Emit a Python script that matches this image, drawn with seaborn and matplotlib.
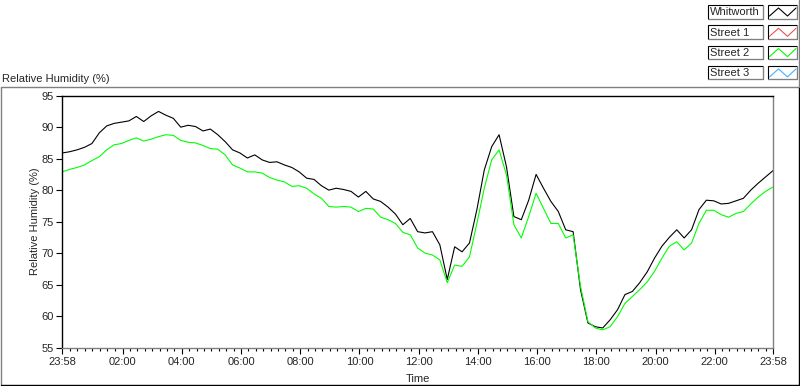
import numpy as np
import pandas as pd
import matplotlib
matplotlib.use("Agg")
import matplotlib.pyplot as plt
from matplotlib.lines import Line2D
from matplotlib.patches import Rectangle
import seaborn as sns

# readings every 15 minutes, counted from 23:58 of the previous day
minutes = np.arange(0, 1441, 15)

whitworth = [
    85.9, 86.1, 86.4, 86.8, 87.4, 89.1, 90.2, 90.6, 90.8, 91.0,
    91.7, 90.9, 91.8, 92.5, 91.9, 91.4, 90.0, 90.3, 90.1, 89.4,
    89.7, 88.8, 87.7, 86.4, 85.9, 85.1, 85.6, 84.8, 84.4, 84.5,
    84.0, 83.6, 82.9, 81.9, 81.7, 80.7, 80.0, 80.3, 80.1, 79.8,
    78.9, 79.8, 78.6, 78.2, 77.3, 76.2, 74.5, 75.5, 73.4, 73.2,
    73.4, 71.3, 65.8, 71.0, 70.2, 71.6, 76.9, 83.2, 86.9, 88.8,
    83.7, 75.8, 75.3, 78.4, 82.5, 80.3, 78.2, 76.6, 73.7, 73.4,
    64.2, 58.9, 58.3, 58.1, 59.4, 61.0, 63.4, 63.9, 65.3, 67.0,
    69.2, 71.1, 72.5, 73.7, 72.4, 73.7, 76.9, 78.4, 78.3, 77.8,
    77.9, 78.3, 78.7, 80.0, 81.1, 82.1, 83.1,
]

street2 = [
    82.9, 83.3, 83.6, 84.0, 84.7, 85.3, 86.4, 87.2, 87.4, 87.9,
    88.3, 87.8, 88.1, 88.5, 88.8, 88.7, 87.9, 87.6, 87.5, 87.1,
    86.6, 86.5, 85.6, 84.0, 83.5, 82.9, 82.9, 82.7, 82.0, 81.6,
    81.3, 80.6, 80.7, 80.3, 79.4, 78.7, 77.4, 77.3, 77.4, 77.3,
    76.6, 77.1, 77.0, 75.7, 75.3, 74.7, 73.3, 72.9, 70.8, 70.0,
    69.7, 68.9, 65.3, 68.1, 67.9, 69.4, 74.7, 80.3, 84.8, 86.4,
    82.4, 74.5, 72.4, 75.8, 79.5, 77.1, 74.7, 74.7, 72.4, 72.9,
    64.7, 59.1, 58.1, 57.8, 58.3, 59.9, 62.0, 63.1, 64.2, 65.4,
    67.1, 69.2, 71.1, 71.8, 70.5, 71.6, 74.7, 76.8, 76.8, 76.1,
    75.7, 76.3, 76.6, 77.8, 78.9, 79.8, 80.5,
]

tick_minutes = [0, 122, 242, 362, 482, 602, 722, 842, 962, 1082, 1202, 1322, 1440]
tick_labels = ["23:58", "02:00", "04:00", "06:00", "08:00", "10:00", "12:00",
               "14:00", "16:00", "18:00", "20:00", "22:00", "23:58"]

legend_names = ["Whitworth", "Street 1", "Street 2", "Street 3"]
legend_colors = ["#000000", "#f05050", "#00ff00", "#40b0ff"]

df = pd.concat([
    pd.DataFrame({"minute": minutes, "rh": whitworth, "station": "Whitworth"}),
    pd.DataFrame({"minute": minutes, "rh": street2, "station": "Street 2"}),
])

sns.set_style("white")
plt.rcParams["font.family"] = ["Liberation Sans", "DejaVu Sans"]
plt.rcParams["font.size"] = 8

W, H = 800, 386
fig = plt.figure(figsize=(W / 100, H / 100), dpi=100)
fig.patch.set_facecolor("white")


def fx(px):
    return px / W


def fy(py):
    return 1 - py / H


ax = fig.add_axes([fx(62.3), fy(347.5), fx(773) - fx(62.3), fy(95.7) - fy(347.5)])
sns.lineplot(data=df, x="minute", y="rh", hue="station",
             hue_order=["Whitworth", "Street 2"],
             palette={"Whitworth": "#000000", "Street 2": "#00ff00"},
             linewidth=0.8, legend=False, ax=ax)

ax.set_xlim(0, 1440)
ax.set_ylim(55, 95)
ax.set_xticks(tick_minutes)
ax.set_xticklabels(tick_labels)
minor = []
for a, b in zip(tick_minutes[:-1], tick_minutes[1:]):
    minor += list(np.linspace(a, b, 9)[1:-1])
ax.set_xticks(minor, minor=True)
ax.set_yticks(np.arange(55, 96, 5))
ax.tick_params(axis="both", which="major", direction="out", length=4, width=0.8,
               color="black", labelsize=8, bottom=True, left=True)
ax.tick_params(axis="x", which="major", pad=3)
ax.tick_params(axis="y", which="major", pad=2)
ax.tick_params(axis="x", which="minor", direction="out", length=2, width=0.8,
               color="black", bottom=True)
ax.set_xlabel("Time", fontsize=8, labelpad=5)
ax.set_ylabel("Relative Humidity (%)", fontsize=8, labelpad=1)
for side in ["top", "left"]:
    ax.spines[side].set_color("black")
    ax.spines[side].set_linewidth(1)
for side in ["bottom", "right"]:
    ax.spines[side].set_color("#808080")
    ax.spines[side].set_linewidth(1)
for side in ax.spines:
    ax.spines[side].set_visible(True)

# chart title above the frame
fig.text(fx(2), fy(82), "Relative Humidity (%)", fontsize=8, ha="left", va="baseline")

# outer frame
fig.add_artist(Line2D([fx(0.5), fx(799)], [fy(86.5), fy(86.5)], color="#808080", lw=1))
fig.add_artist(Line2D([fx(0.5), fx(0.5)], [fy(86.5), fy(384.5)], color="#808080", lw=1))
fig.add_artist(Line2D([fx(0.5), fx(798.5)], [fy(384.5), fy(384.5)], color="black", lw=1))
fig.add_artist(Line2D([fx(798.5), fx(798.5)], [fy(86.5), fy(384.5)], color="black", lw=1))
fig.add_artist(Line2D([fx(798.5), fx(798.5)], [fy(0), fy(86.5)], color="#808080", lw=1))

# legend panel
for i, (name, col) in enumerate(zip(legend_names, legend_colors)):
    top = 5 + i * 20.3
    bot = top + 13.5
    fig.add_artist(Rectangle((fx(708), fy(bot)), fx(763) - fx(708), fy(top) - fy(bot),
                             facecolor="white", edgecolor="black", lw=0.8))
    fig.add_artist(Line2D([fx(708), fx(763), fx(763)], [fy(bot), fy(bot), fy(top)],
                          color="#808080", lw=0.8))
    fig.text(fx(710), fy((top + bot) / 2 + 0.5), name, fontsize=8, ha="left", va="center")
    fig.add_artist(Rectangle((fx(768), fy(bot)), fx(797) - fx(768), fy(top) - fy(bot),
                             facecolor="white", edgecolor="black", lw=0.8))
    fig.add_artist(Line2D([fx(768), fx(797), fx(797)], [fy(bot), fy(bot), fy(top)],
                          color="#808080", lw=0.8))
    zx = [769.5, 778.5, 787.5, 796]
    zy = [bot - 2.5, top + 3, bot - 2.5, top + 3]
    fig.add_artist(Line2D([fx(v) for v in zx], [fy(v) for v in zy], color=col, lw=0.8))

fig.savefig("out.png", dpi=100)
